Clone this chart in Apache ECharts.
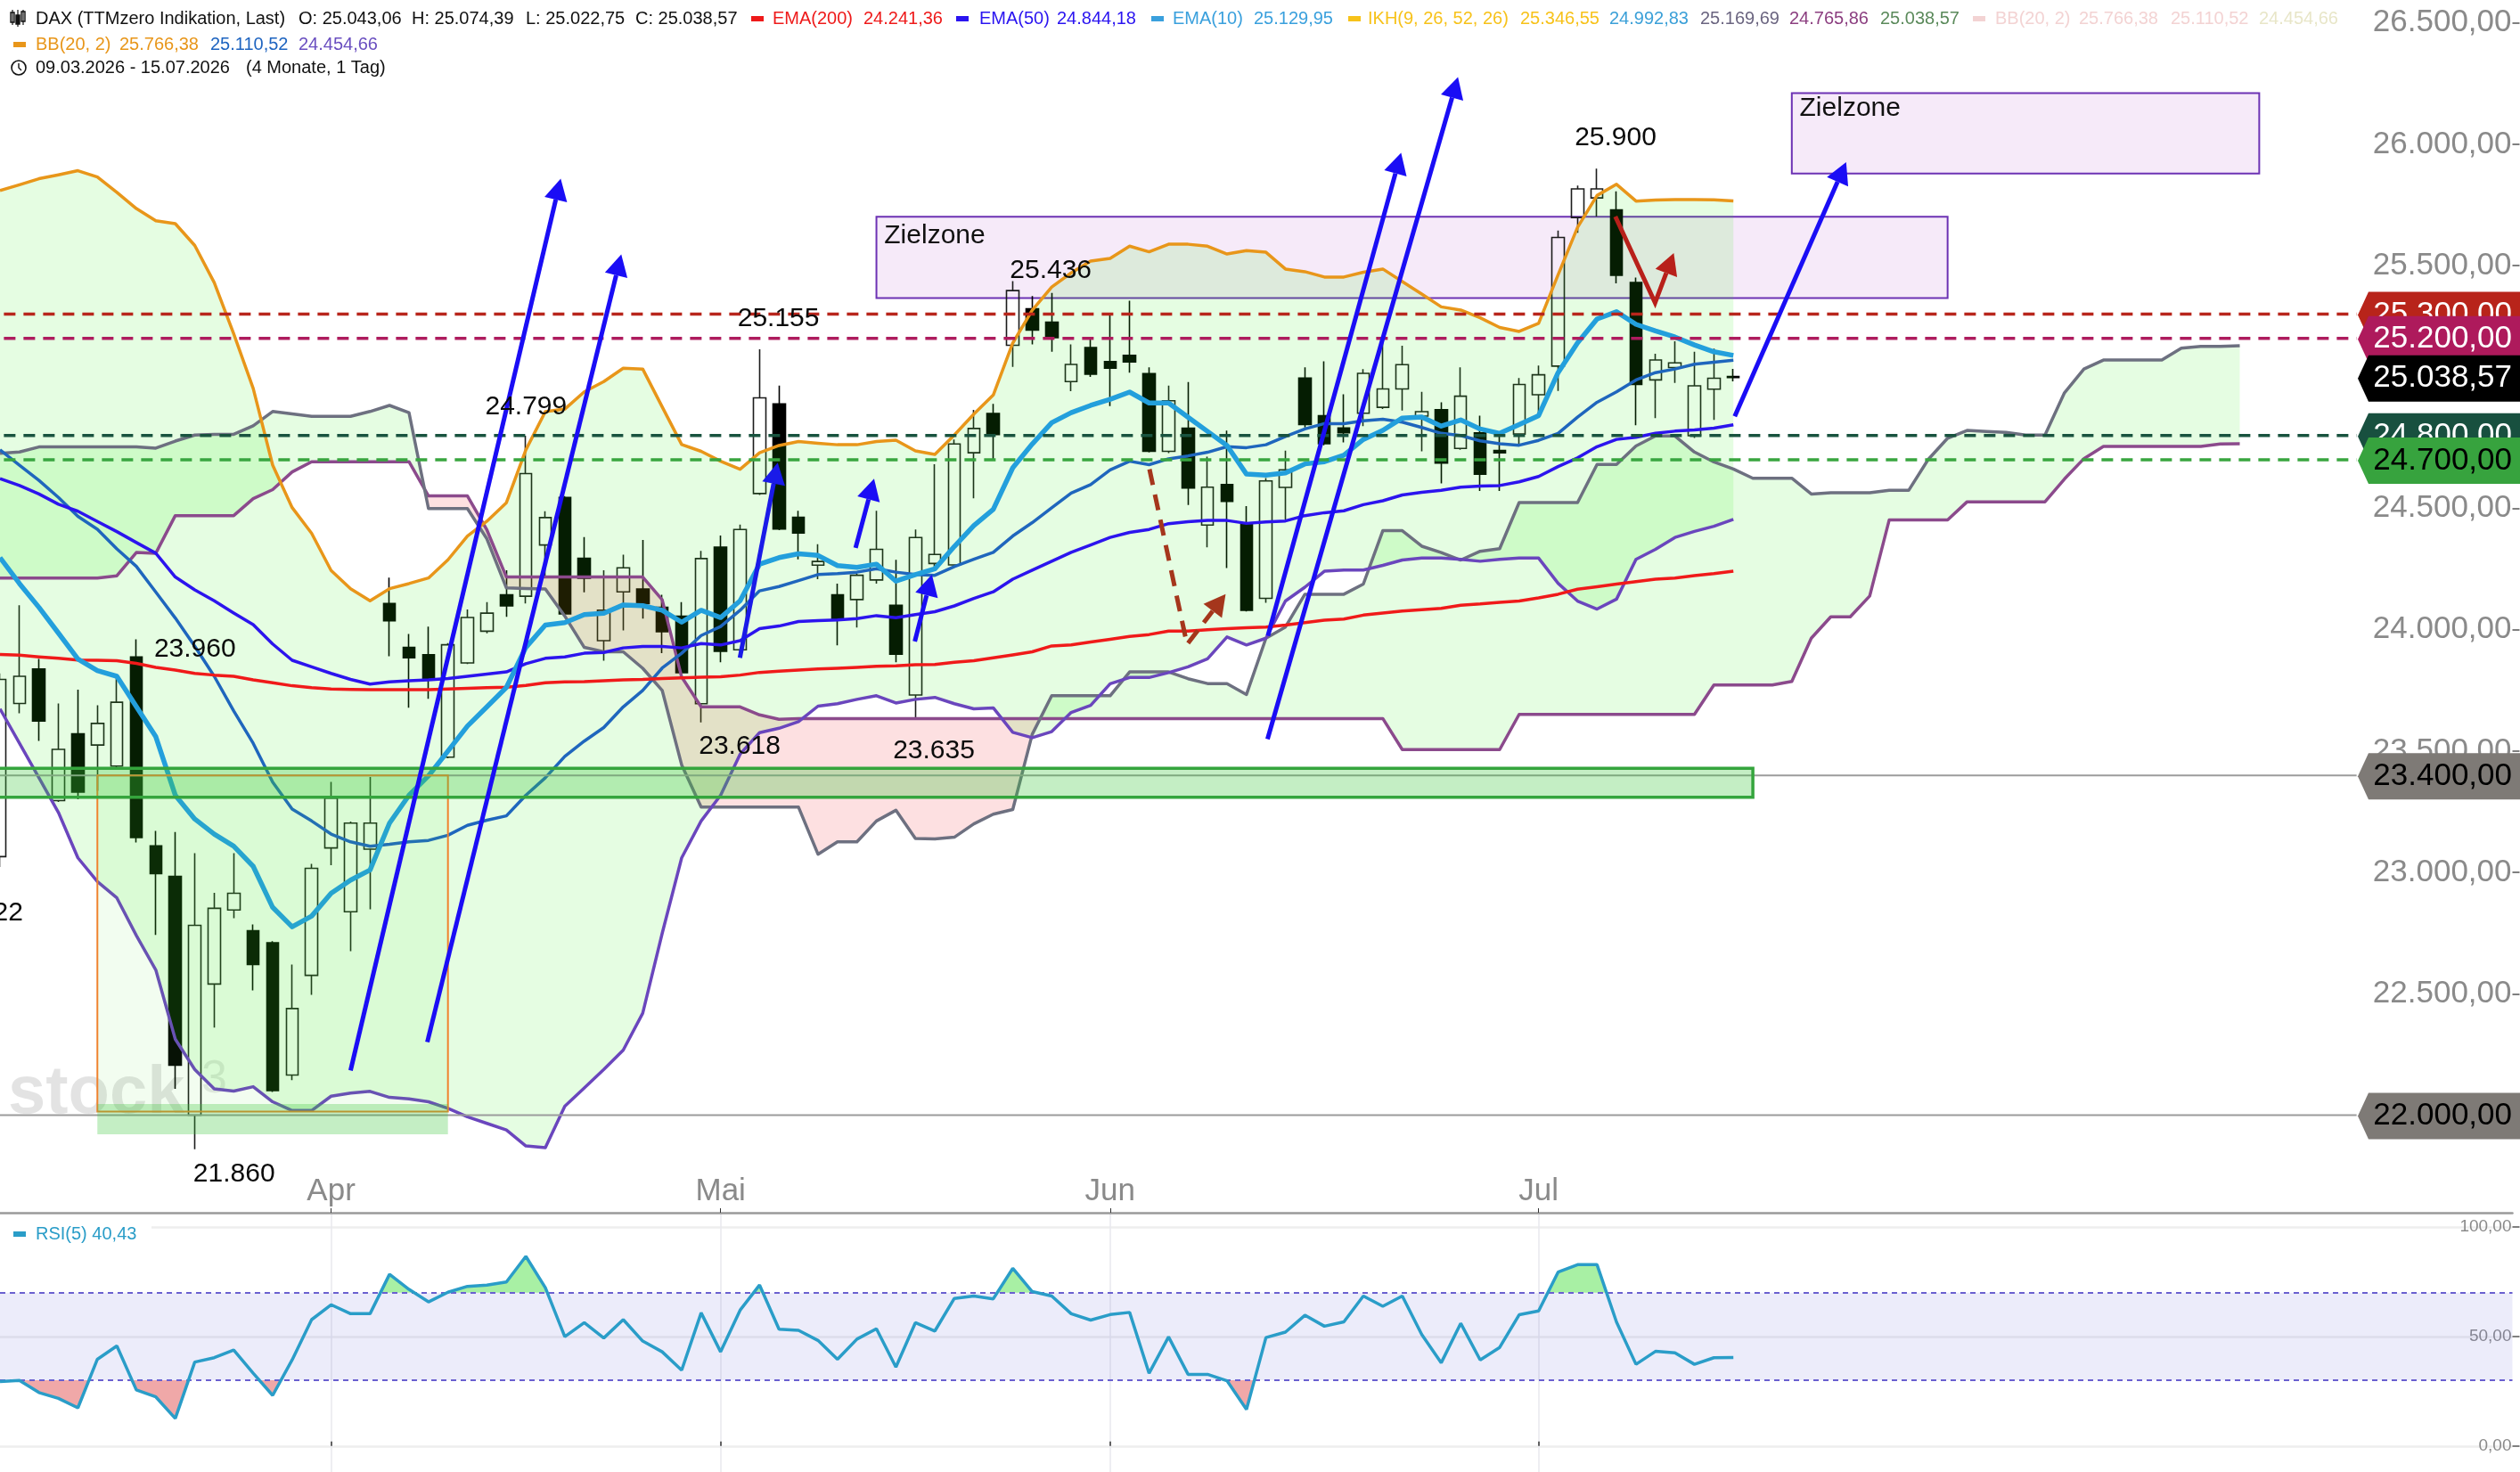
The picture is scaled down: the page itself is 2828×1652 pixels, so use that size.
<!DOCTYPE html>
<html>
<head>
<meta charset="utf-8">
<title>DAX</title>
<script src="https://cdn.jsdelivr.net/npm/echarts@6/dist/echarts.min.js"></script>
<style>html,body{margin:0;padding:0;background:#fff}#chart{width:2828px;height:1652px}</style>
</head>
<body>
<div id="chart"></div>
<script>
// Daily DAX candles, 09.03.2026 to 15.07.2026
const opens = [
  23065,23696,23838,23296,23571,23525,23438,23888,23109,22984,
  22000,22540,22845,22760,22710,22165,22576,23101,22838,23096,
  24108,23927,23897,23475,23863,23994,24144,24138,24349,24545,
  24294,23955,24156,24168,24092,24056,23695,24340,23917,24561,
  24930,24463,24266,24144,24124,24205,24101,23731,24273,24267,
  24729,24891,25172,25322,25267,25022,25162,25105,25130,25055,
  24735,24830,24431,24598,24435,24129,24586,25037,24882,24831,
  24892,24916,24992,24880,24906,24747,24811,24738,24806,24968,
  25086,25698,25779,25730,25430,25029,25080,24799,24991,25043.06];
const highs = [
  23820,24101,23880,23696,23753,23689,23813,23960,23171,23166,
  23079,22916,23079,22786,22717,22620,23035,23373,23210,23393,
  24215,23982,24013,23945,24083,24114,24245,24799,24488,24550,
  24382,24245,24309,24370,24144,24114,24325,24388,24433,25155,
  25006,24490,24352,24190,24230,24490,24288,24413,24682,24784,
  24906,24930,25436,25375,25387,25175,25200,25300,25355,25081,
  25006,25020,24713,24820,24509,24625,24738,25081,25106,24970,
  25074,25182,25170,24980,24937,25081,24882,24802,25037,25088,
  25644,25830,25900,25806,25451,25137,25188,25145,25158,25074.39];
const lows = [
  23022,23656,23542,23290,23301,23336,23430,23123,22742,22108,
  21860,22361,22811,22514,22095,22144,22496,23030,22675,22848,
  23891,23679,23715,23470,23858,23985,24053,24108,24215,24057,
  24154,23872,23997,24046,23903,23815,23618,23866,23910,24555,
  24410,24290,24208,23936,24009,24190,23866,23635,24245,24262,
  24541,24704,25083,25175,25145,24983,25041,24921,25059,24730,
  24728,24514,24339,24254,24075,24111,24454,24833,24760,24772,
  24839,24909,24903,24735,24603,24741,24572,24572,24766,24888,
  24984,25635,25702,25427,24842,24872,25017,24790,24864,25022.75];
const closes = [
  23795,23808,23624,23507,23331,23614,23701,23144,22995,22206,
  22782,22852,22914,22621,22101,22439,23017,23306,23203,23203,
  24037,23884,23796,23938,24050,24068,24098,24643,24462,24065,
  24212,24080,24255,24107,23992,23823,24293,23911,24413,24955,
  24415,24398,24281,24041,24224,24331,23899,24380,24310,24765,
  24829,24804,25397,25234,25203,25093,25053,25077,25103,24735,
  24943,24584,24587,24529,24080,24613,24659,24845,24766,24811,
  25056,24992,25092,24898,24686,24962,24641,24729,25010,25050,
  25616,25816,25816,25460,25010,25111,25099,25005,25036,25038.57];

const bbUpper = [
  25809,25833,25858,25874,25891,25865,25802,25735,25685,25673,
  25583,25430,25219,24994,24678,24503,24397,24244,24169,24119,
  24169,24190,24213,24288,24386,24447,24523,24741,24898,24909,
  24980,25022,25077,25074,24918,24763,24735,24694,24661,24729,
  24759,24775,24768,24762,24762,24775,24781,24737,24722,24802,
  24888,24967,25181,25316,25412,25470,25519,25530,25580,25557,
  25588,25588,25580,25548,25562,25555,25486,25475,25453,25453,
  25473,25486,25434,25383,25330,25317,25285,25245,25229,25262,
  25462,25658,25789,25835,25766,25770,25772,25772,25771,25766.38];
const bbMiddle = [
  24741,24678,24615,24545,24467,24414,24333,24261,24155,24048,
  23932,23808,23665,23532,23372,23261,23212,23158,23126,23108,
  23116,23126,23132,23153,23194,23215,23233,23318,23390,23478,
  23541,23597,23682,23750,23842,23903,23976,24013,24080,24160,
  24178,24202,24227,24231,24237,24251,24237,24227,24224,24260,
  24290,24319,24386,24441,24502,24563,24598,24658,24694,24680,
  24704,24716,24731,24754,24750,24762,24796,24827,24849,24849,
  24861,24867,24855,24833,24809,24800,24778,24766,24760,24780,
  24809,24876,24937,24980,25029,25059,25074,25094,25102,25110.52];
const bbLower = [
  23674,23532,23390,23247,23060,22962,22895,22740,22598,22313,
  22188,22108,22099,22117,22055,22019,22019,22078,22091,22098,
  22073,22067,22055,22028,21993,21966,21939,21873,21866,22037,
  22112,22188,22268,22420,22749,23060,23212,23318,23487,23576,
  23594,23621,23685,23695,23713,23728,23698,23713,23721,23695,
  23674,23678,23577,23555,23580,23659,23688,23777,23803,23803,
  23823,23847,23880,23970,23937,23965,24118,24175,24241,24246,
  24246,24265,24287,24295,24295,24290,24282,24290,24295,24295,
  24191,24118,24085,24126,24290,24331,24380,24405,24426,24454.66];
const ema200 = [
  23898,23895,23888,23882,23875,23874,23872,23861,23845,23834,
  23820,23813,23808,23793,23781,23769,23761,23756,23754,23753,
  23753,23753,23753,23756,23758,23761,23763,23770,23781,23785,
  23786,23790,23793,23795,23799,23802,23804,23806,23813,23824,
  23829,23834,23838,23841,23845,23849,23851,23856,23857,23866,
  23872,23884,23896,23909,23933,23937,23949,23960,23972,23980,
  23994,23994,24000,24004,24008,24011,24019,24029,24039,24044,
  24060,24069,24077,24082,24088,24101,24106,24113,24118,24131,
  24146,24167,24177,24188,24198,24208,24213,24223,24231,24241.36];
const ema50 = [
  24622,24594,24559,24517,24488,24446,24404,24359,24315,24217,
  24164,24119,24069,24021,23941,23874,23847,23820,23795,23776,
  23785,23790,23793,23799,23808,23817,23826,23860,23882,23888,
  23903,23906,23925,23931,23931,23925,23943,23937,23955,24004,
  24015,24034,24037,24040,24046,24058,24049,24062,24074,24098,
  24129,24156,24208,24245,24282,24319,24349,24380,24401,24413,
  24437,24445,24450,24450,24438,24444,24448,24470,24482,24490,
  24515,24531,24555,24566,24574,24587,24592,24594,24609,24631,
  24672,24708,24754,24784,24793,24809,24818,24823,24830,24844.18];
const ema10 = [
  24297,24190,24092,23986,23879,23831,23808,23683,23559,23318,
  23220,23158,23108,23025,22856,22776,22820,22914,22968,23010,
  23203,23318,23398,23500,23603,23682,23762,23927,24019,24029,
  24062,24068,24102,24099,24080,24031,24080,24050,24119,24270,
  24297,24313,24306,24264,24257,24270,24200,24227,24251,24343,
  24429,24496,24667,24765,24853,24894,24924,24949,24979,24934,
  24934,24875,24817,24759,24641,24637,24646,24683,24692,24719,
  24784,24821,24872,24876,24839,24864,24827,24809,24845,24882,
  25059,25182,25280,25310,25258,25231,25206,25173,25145,25129.95];
// Ichimoku cloud, 26 sessions ahead of the last candle
const senkouA = [
  24727,24732,24753,24753,24753,24753,24753,24753,24748,24777,
  24802,24805,24805,24840,24899,24889,24879,24879,24879,24899,
  24924,24894,24499,24499,24499,24374,24172,24170,24168,24056,
  23927,23909,23909,23841,23750,23443,23269,23269,23269,23269,
  23269,23269,23075,23126,23126,23212,23256,23140,23138,23145,
  23200,23240,23259,23569,23728,23728,23728,23728,23826,23826,
  23826,23798,23778,23778,23733,23965,24011,24146,24146,24146,
  24188,24408,24408,24344,24318,24287,24323,24334,24524,24524,
  24524,24524,24681,24681,24757,24798,24798,24732,24691,24662,
  24624,24624,24624,24559,24564,24564,24564,24574,24574,24701,
  24789,24821,24817,24813,24802,24802,24976,25074,25111,25111,
  25111,25111,25160,25167,25167,25169.69];
const senkouB = [
  24213,24213,24213,24213,24213,24213,24222,24318,24315,24470,
  24470,24470,24470,24540,24577,24650,24692,24692,24692,24692,
  24692,24692,24551,24551,24551,24411,24217,24217,24217,24217,
  24217,24217,24217,24217,24123,23805,23682,23682,23682,23649,
  23631,23634,23634,23634,23634,23634,23634,23634,23634,23634,
  23634,23634,23634,23634,23634,23634,23634,23634,23634,23634,
  23634,23634,23634,23634,23634,23634,23634,23634,23634,23634,
  23634,23634,23506,23506,23506,23506,23506,23506,23651,23651,
  23651,23651,23651,23651,23651,23651,23651,23651,23772,23772,
  23772,23772,23787,23965,24053,24053,24139,24452,24452,24452,
  24452,24527,24527,24527,24527,24527,24621,24705,24755,24755,
  24755,24755,24755,24755,24765,24765.86];
const rsi5 = [
  29.4,29.9,24.4,21.7,17.4,39.6,45.7,25.6,22.4,12.6,
  38.3,40.3,43.8,33.2,23.1,39.3,57.7,64.5,60.4,60.4,
  78.4,71.5,65.8,70.2,72.9,73.5,74.9,86.6,72.3,49.9,
  56.3,49.3,57.7,47.9,43,34.6,60.8,43,62,73.5,
  53.3,52.8,48.2,39.6,48.8,53.5,36,56.3,52.5,67.4,
  68.5,67.2,81.1,70.5,68.5,60.4,57.5,60,61,33.2,
  49.8,32.7,32.7,29.8,16.7,49.5,52,59.7,54.7,56.7,
  68.5,63.8,68.5,50.9,38,56,39.3,45,59.9,61.7,
  79.4,82.8,82.8,56.6,37.3,43.2,42.5,37.3,40.3,40.43];

const priceTicks = [22000,22500,23000,23500,24000,24500,25000,25500,26000,26500];
const rsiTicks = [0,50,100];
const monthTicks = {17:'Apr',37:'Mai',57:'Jun',79:'Jul'};
const sessionCount = 130;
const sessions = Array.from({length: sessionCount}, (_, i) => String(i));

// Horizontal levels: value, tag colour, tag text colour
const dashedLevels = [[25300,'#b8261c'],[25200,'#ae1c5e'],[24800,'#19533f'],[24700,'#38a53f']];
const solidLevels = [23400,22000];
const priceTags = [
  [25300,'25.300,00','#b8241a','#ffffff'],
  [25200,'25.200,00','#ae1a5c','#ffffff'],
  [24800,'24.800,00','#18503f','#ffffff'],
  [24700,'24.700,00','#37a33e','#000000'],
  [25038.57,'25.038,57','#000000','#ffffff'],
  [23400,'23.400,00','#7e7a76','#000000'],
  [22000,'22.000,00','#7e7a76','#000000']
];
// Target zones and other boxes as [fromSession, toSession, upper, lower]
const targetZones = [[45,100,25701,25366],[92,116,26211,25879]];
const supportBox = [-1,90,23429,23310];
const reboundBox = [5,23,23400,22015];
const reboundFloor = [5,23,22046,21921];
const zoneCaptions = [[45.4,25622,'Zielzone'],[92.4,26146,'Zielzone']];
// Drawn trend arrows as session/price points
const arrows = [
  {pts:[[18,22184],[28.79,25858]], color:'#1a0df5'},
  {pts:[[21.94,22301],[31.9,25546]], color:'#1a0df5'},
  {pts:[[37.99,23884],[39.93,24688]], color:'#1a1ae8'},
  {pts:[[43.93,24337],[44.88,24622]], color:'#1a0df5'},
  {pts:[[46.97,23952],[47.85,24227]], color:'#1a0df5'},
  {pts:[[65.1,23975],[71.94,25965]], color:'#1a0df5'},
  {pts:[[65.08,23549],[74.86,26277]], color:'#1a0df5'},
  {pts:[[89.07,24879],[94.79,25926]], color:'#1a0df5'},
  {pts:[[59.02,24661],[60.95,23939],[62.93,24147]], color:'#a5361c', dash:[18,11]},
  {pts:[[82.94,25702],[84.98,25347],[85.94,25552]], color:'#b8201a'}
];
// Swing high and low captions as session, price, text
const swingLabels = [
  [12.02,21758,'21.860'],[10.01,23920,'23.960'],[27.01,24918,'24.799'],
  [39.97,25282,'25.155'],[37.98,23520,'23.618'],[47.95,23500,'23.635'],
  [53.95,25480,'25.436'],[82.95,26027,'25.900'],[-0.91,22833,'23.022']
];
// Header rows: x, y, text, colour
const headerTexts = [
  [40,21,'DAX (TTMzero Indikation, Last)','#111'],[335,21,'O: 25.043,06','#111'],[462,21,'H: 25.074,39','#111'],
  [590,21,'L: 25.022,75','#111'],[713,21,'C: 25.038,57','#111'],
  [867,21,'EMA(200)','#ee1a1a'],[969,21,'24.241,36','#ee1a1a'],
  [1099,21,'EMA(50)','#2a14f0'],[1186,21,'24.844,18','#2a14f0'],
  [1316,21,'EMA(10)','#3aa0dd'],[1407,21,'25.129,95','#3aa0dd'],
  [1535,21,'IKH(9, 26, 52, 26)','#f7c21a'],[1706,21,'25.346,55','#f7c21a'],[1806,21,'24.992,83','#3ba0d8'],
  [1908,21,'25.169,69','#6b6580'],[2008,21,'24.765,86','#8c3f80'],[2110,21,'25.038,57','#5b8a5b'],
  [2239,21,'BB(20, 2)','#f3d3d3'],[2333,21,'25.766,38','#f3d3d3'],[2436,21,'25.110,52','#f3d3d3'],[2535,21,'24.454,66','#e8e6c8'],
  [40,50,'BB(20, 2)','#e8961a'],[134,50,'25.766,38','#e8961a'],[236,50,'25.110,52','#1e64c0'],[335,50,'24.454,66','#6a4fc0'],
  [40,76,'09.03.2026 - 15.07.2026','#111'],[276,76,'(4 Monate, 1 Tag)','#111']
];
const headerSwatches = [[843,21,'#ee1a1a'],[1073,21,'#2a14f0'],[1292,21,'#3aa0dd'],[1513,21,'#f7c21a'],[2214,21,'#f3d3d3'],[15,50,'#e8961a']];

const fontFamily = '"Liberation Sans", Arial, sans-serif';

function formatPrice(v) {
  const fixed = v.toFixed(2).split('.');
  return fixed[0].replace(/\B(?=(\d{3})+$)/g, '.') + ',' + fixed[1];
}

// Maps a possibly fractional session index and a value to pixels through the axes
function at(api, idx, v) {
  const a = api.coord([0, v]);
  const b = api.coord([1, v]);
  return [a[0] + idx * (b[0] - a[0]), a[1]];
}

// Splits the band between two curves into polygons wherever the curves cross
function bandRuns(api, upper, lower) {
  const runs = [];
  let cur = null;
  for (let i = 0; i < upper.length; i++) {
    const s = upper[i] >= lower[i] ? 1 : -1;
    if (cur && s !== cur.sign) {
      const d0 = upper[i - 1] - lower[i - 1];
      const d1 = upper[i] - lower[i];
      const t = d0 / (d0 - d1);
      const vx = upper[i - 1] + t * (upper[i] - upper[i - 1]);
      const p = at(api, i - 1 + t, vx);
      cur.top.push(p);
      cur.bot.push(p);
      runs.push(cur);
      cur = {sign: s, top: [p], bot: [p]};
    }
    if (!cur) cur = {sign: s, top: [], bot: []};
    cur.top.push(at(api, i, upper[i]));
    cur.bot.push(at(api, i, lower[i]));
  }
  runs.push(cur);
  return runs.map(r => ({sign: r.sign, points: r.top.concat(r.bot.slice().reverse())}));
}

function poly(points, fill) {
  return {type: 'polygon', shape: {points}, style: {fill, stroke: null}};
}
function rectBox(api, box, fill, stroke, lineWidth) {
  const a = at(api, box[0], box[2]);
  const b = at(api, box[1], box[3]);
  return {type: 'rect', shape: {x: a[0], y: a[1], width: b[0] - a[0], height: b[1] - a[1]},
    style: {fill, stroke: stroke || null, lineWidth: lineWidth || 0}};
}
function label(x, y, text, fill, size, align) {
  return {type: 'text', style: {x, y, text, fill, font: size + 'px ' + fontFamily,
    align: align || 'center', verticalAlign: 'middle'}};
}

// One custom series holding a set of shapes built from the data arrays
function overlay(z, build, grid) {
  const g = grid || 0;
  return {
    type: 'custom', z, silent: true, xAxisIndex: g, yAxisIndex: g, animation: false,
    data: [[0, 0]], encode: {x: 0, y: 1},
    renderItem: (params, api) => ({type: 'group', children: build(api)})
  };
}
function lineSeries(name, data, color, width, z) {
  return {name, type: 'line', data, z, showSymbol: false, silent: true, animation: false,
    lineStyle: {color, width, join: 'round'}, itemStyle: {color}, xAxisIndex: 0, yAxisIndex: 0};
}

const tickFilter = (i) => monthTicks[i] !== undefined;
const candleData = opens.map((o, i) => [o, closes[i], lows[i], highs[i]]);

const headerGraphics = [
  // ticker glyph
  {type:'rect', z:50, shape:{x:12,y:14,width:4,height:11}, style:{fill:'none',stroke:'#111',lineWidth:1.4}},
  {type:'rect', z:50, shape:{x:18,y:17,width:4,height:10}, style:{fill:'#111',stroke:'#111',lineWidth:1.4}},
  {type:'rect', z:50, shape:{x:24,y:13,width:4,height:11}, style:{fill:'none',stroke:'#111',lineWidth:1.4}},
  {type:'line', z:50, shape:{x1:14,y1:11,x2:14,y2:28}, style:{stroke:'#111',lineWidth:1.2}},
  {type:'line', z:50, shape:{x1:20,y1:11,x2:20,y2:30}, style:{stroke:'#111',lineWidth:1.2}},
  {type:'line', z:50, shape:{x1:26,y1:11,x2:26,y2:28}, style:{stroke:'#111',lineWidth:1.2}},
  // clock glyph
  {type:'circle', z:50, shape:{cx:21,cy:76,r:8}, style:{fill:'none',stroke:'#111',lineWidth:1.6}},
  {type:'polyline', z:50, shape:{points:[[21,71],[21,76],[24,79]]}, style:{fill:'none',stroke:'#111',lineWidth:1.4}},
  // watermark
  {type:'text', z:1, style:{x:9,y:1228,text:'stock',fill:'rgba(0,0,0,0.11)',font:'bold 76px '+fontFamily,verticalAlign:'middle'}},
  {type:'text', z:1, style:{x:226,y:1212,text:'3',fill:'rgba(0,0,0,0.09)',font:'52px '+fontFamily,verticalAlign:'middle'}},
  // RSI caption
  {type:'rect', z:40, shape:{x:0,y:1372,width:170,height:28}, style:{fill:'#ffffff'}},
  {type:'rect', z:50, shape:{x:15,y:1382,width:14,height:6}, style:{fill:'#2a9dc8'}},
  {type:'text', z:50, style:{x:40,y:1385,text:'RSI(5) 40,43',fill:'#2a9dc8',font:'20px '+fontFamily,verticalAlign:'middle'}}
];
headerTexts.forEach(t => headerGraphics.push({type:'text', z:50,
  style:{x:t[0],y:t[1],text:t[2],fill:t[3],font:'20px '+fontFamily,verticalAlign:'middle'}}));
headerSwatches.forEach(s => headerGraphics.push({type:'rect', z:50,
  shape:{x:s[0],y:s[1]-3,width:14,height:6}, style:{fill:s[2]}}));

const option = {
  animation: false,
  backgroundColor: '#ffffff',
  graphic: {elements: headerGraphics},
  grid: [
    {left: -3, top: 0, width: 2822.5, height: 1361, containLabel: false},
    {left: -3, top: 1362, width: 2822.5, height: 290, containLabel: false}
  ],
  xAxis: [
    {type: 'category', gridIndex: 0, data: sessions, boundaryGap: false,
      axisLine: {show: true, lineStyle: {color: '#9a9a9a', width: 2.5}},
      axisTick: {show: true, inside: true, length: 5, interval: tickFilter, lineStyle: {color: '#333', width: 1}},
      axisLabel: {show: true, inside: true, margin: 6, interval: tickFilter, hideOverlap: false,
        formatter: (v, i) => monthTicks[i] || '', color: '#8a8a8a', fontSize: 35, fontFamily},
      splitLine: {show: false}},
    {type: 'category', gridIndex: 1, data: sessions, boundaryGap: false,
      axisLine: {show: false},
      axisTick: {show: true, inside: true, length: 5, interval: tickFilter, lineStyle: {color: '#333', width: 1.5}},
      axisLabel: {show: false},
      splitLine: {show: true, interval: tickFilter, lineStyle: {color: '#e9e9ee', width: 1.5}}}
  ],
  yAxis: [
    {type: 'value', gridIndex: 0, position: 'right', min: 21598, max: 26594.3,
      axisLine: {show: false}, splitLine: {show: false},
      axisTick: {show: true, length: 8, customValues: priceTicks, lineStyle: {color: '#555', width: 1.5}},
      axisLabel: {show: true, inside: true, margin: 1, customValues: priceTicks, hideOverlap: false,
        formatter: formatPrice, color: '#8a8a8a', fontSize: 35, fontFamily}},
    {type: 'value', gridIndex: 1, position: 'right', min: -11.9, max: 106.13,
      axisLine: {show: false},
      splitLine: {show: true, lineStyle: {color: '#eeeeee', width: 2.5}},
      axisTick: {show: true, length: 8, customValues: rsiTicks, lineStyle: {color: '#555', width: 1.5}},
      axisLabel: {show: true, inside: true, margin: 1, customValues: rsiTicks, hideOverlap: false,
        formatter: formatPrice, color: '#8a8a8a', fontSize: 19, fontFamily}}
  ],
  series: [
    // target zones sit beneath candles and band fills
    overlay(1, api => targetZones.map(z => rectBox(api, z, '#f6eaf9', '#6c32b4', 2))),
    {name: 'DAX', type: 'candlestick', data: candleData, z: 2, barWidth: 14, silent: true, animation: false,
      xAxisIndex: 0, yAxisIndex: 0, clip: false,
      itemStyle: {color: 'rgba(255,255,255,0)', color0: '#000000', borderColor: '#1c1c1c', borderColor0: '#000000', borderWidth: 1.6}},
    // Ichimoku cloud first, the Bollinger band fill tints over it
    overlay(3, api => {
      const shapes = bandRuns(api, senkouA, senkouB).map(r =>
        poly(r.points, r.sign > 0 ? 'rgba(40,238,20,0.12)' : 'rgba(240,0,10,0.12)'));
      bandRuns(api, bbUpper, bbLower).forEach(r => shapes.push(poly(r.points, 'rgba(40,238,20,0.12)')));
      return shapes;
    }),
    lineSeries('Senkou B', senkouB, '#8b4a8c', 3.5, 4),
    lineSeries('Senkou A', senkouA, '#6d7080', 3.5, 4),
    lineSeries('BB lower', bbLower, '#6a46bd', 3.5, 4),
    lineSeries('BB middle', bbMiddle, '#1f66bd', 3.5, 4),
    lineSeries('BB upper', bbUpper, '#e8961a', 3.5, 4),
    lineSeries('EMA200', ema200, '#f01a1a', 3.5, 4),
    lineSeries('EMA50', ema50, '#2c14ee', 3.5, 4),
    lineSeries('EMA10', ema10, '#239fdc', 5.5, 4),
    // horizontal levels and the drawn boxes
    overlay(5, api => {
      const shapes = [];
      solidLevels.forEach(v => {
        const a = at(api, 0, v), b = at(api, 121, v);
        shapes.push({type: 'line', shape: {x1: a[0], y1: a[1], x2: b[0], y2: b[1]}, style: {stroke: '#9c9c9c', lineWidth: 2}});
      });
      dashedLevels.forEach(l => {
        const a = at(api, 0.2, l[0]), b = at(api, 121, l[0]);
        shapes.push({type: 'line', shape: {x1: a[0], y1: a[1], x2: b[0], y2: b[1]},
          style: {stroke: l[1], lineWidth: 3.5, lineDash: [13, 9]}});
      });
      shapes.push(rectBox(api, reboundBox, 'rgba(90,230,70,0.08)', '#f0822e', 2));
      shapes.push(rectBox(api, reboundFloor, 'rgba(60,200,60,0.3)'));
      shapes.push(rectBox(api, supportBox, 'rgba(60,200,60,0.3)', '#35a53d', 3.5));
      return shapes;
    }),
    // trend arrows with their heads
    overlay(6, api => {
      const shapes = [];
      arrows.forEach(a => {
        const pts = a.pts.map(p => at(api, p[0], p[1]));
        const tip = pts[pts.length - 1];
        const prev = pts[pts.length - 2];
        const len = Math.hypot(tip[0] - prev[0], tip[1] - prev[1]);
        const ux = (tip[0] - prev[0]) / len, uy = (tip[1] - prev[1]) / len;
        const base = [tip[0] - ux * 24, tip[1] - uy * 24];
        const shaft = pts.slice(0, -1).concat([base]);
        shapes.push({type: 'polyline', shape: {points: shaft},
          style: {stroke: a.color, lineWidth: 5, fill: null, lineDash: a.dash || null, lineJoin: 'miter'}});
        shapes.push(poly([tip, [base[0] - uy * 13, base[1] + ux * 13], [base[0] + uy * 13, base[1] - ux * 13]], a.color));
      });
      return shapes;
    }),
    // captions
    overlay(7, api => {
      const shapes = swingLabels.map(s => {
        const p = at(api, s[0], s[1]);
        return label(p[0], p[1], s[2], '#0a0a0a', 30);
      });
      zoneCaptions.forEach(c => {
        const p = at(api, c[0], c[1]);
        shapes.push(label(p[0], p[1], c[2], '#111111', 30, 'left'));
      });
      return shapes;
    }),
    // price tags along the right scale
    overlay(8, api => {
      const shapes = [];
      priceTags.forEach(t => {
        const y = at(api, 0, t[0])[1] + 1;
        shapes.push(poly([[2658, y - 26], [2828, y - 26], [2828, y + 26], [2658, y + 26], [2646, y]], t[2]));
        shapes.push(label(2819, y, t[1], t[3], 35, 'right'));
      });
      return shapes;
    }),
    // RSI panel
    {name: 'RSI(5)', type: 'line', data: rsi5, z: 5, xAxisIndex: 1, yAxisIndex: 1, showSymbol: false, silent: true, animation: false,
      lineStyle: {color: '#2a9dc8', width: 3.5}, itemStyle: {color: '#2a9dc8'},
      markArea: {silent: true, itemStyle: {color: 'rgba(100,100,210,0.12)'}, data: [[{yAxis: 30}, {yAxis: 70}]]},
      markLine: {silent: true, symbol: 'none', label: {show: false},
        lineStyle: {color: '#6a60d0', width: 2, type: [6, 5]}, data: [{yAxis: 70}, {yAxis: 30}]}},
    overlay(4, api => {
      const shapes = [];
      bandRuns(api, rsi5, rsi5.map(() => 70)).forEach(r => { if (r.sign > 0) shapes.push(poly(r.points, '#a8f0a4')); });
      bandRuns(api, rsi5, rsi5.map(() => 30)).forEach(r => { if (r.sign < 0) shapes.push(poly(r.points, '#f0a8a8')); });
      return shapes;
    }, 1)
  ]
};

const chart = echarts.init(document.getElementById('chart'), null, {renderer: 'canvas', width: 2828, height: 1652});
chart.setOption(option);
</script>
</body>
</html>
